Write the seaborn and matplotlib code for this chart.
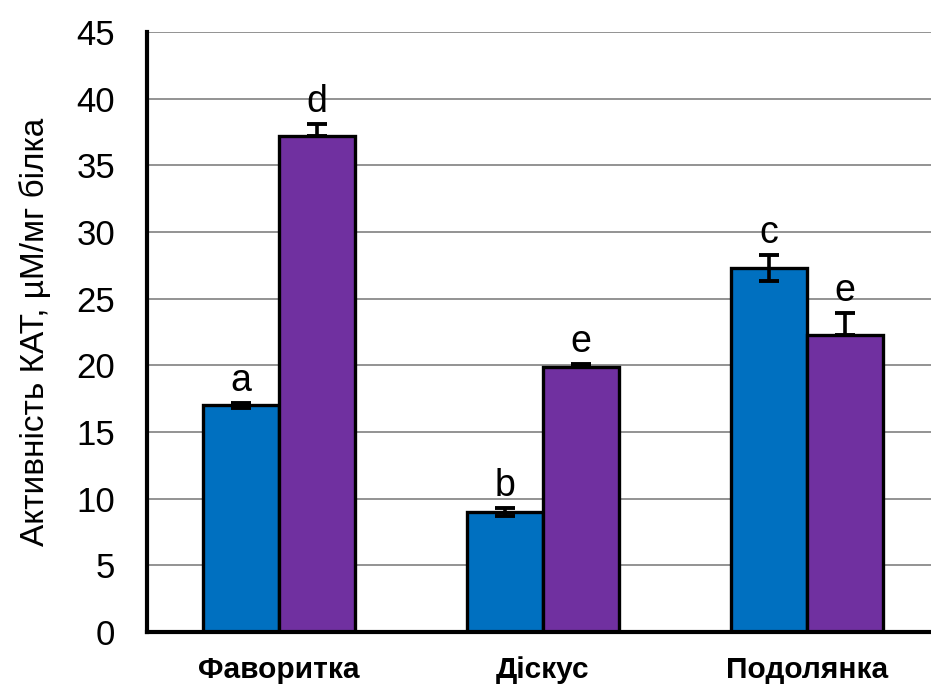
import matplotlib
matplotlib.use("Agg")
import matplotlib.pyplot as plt
from matplotlib.container import BarContainer
import seaborn as sns
import pandas as pd
import numpy as np

categories = ["Фаворитка", "Діскус", "Подолянка"]
series = ["control", "treated"]
blue_vals = [17.0, 9.0, 27.3]
purple_vals = [37.2, 19.9, 22.3]
blue_err = [0.2, 0.3, 0.95]
purple_err = [0.9, 0.2, 1.6]
blue_letters = ["a", "b", "c"]
purple_letters = ["d", "e", "e"]
yticks = [0, 5, 10, 15, 20, 25, 30, 35, 40, 45]

colors = ["#0070C0", "#7030A0"]

df = pd.DataFrame({
    "cat": categories * 2,
    "ser": [series[0]] * 3 + [series[1]] * 3,
    "val": blue_vals + purple_vals,
})

sns.set_style("white")
plt.rcParams['font.family'] = ['Liberation Sans', 'DejaVu Sans']
plt.rcParams['text.color'] = 'black'
plt.rcParams['axes.labelcolor'] = 'black'
plt.rcParams['xtick.color'] = 'black'
plt.rcParams['ytick.color'] = 'black'

fig = plt.figure(figsize=(9.31, 6.90), dpi=100)
ax = fig.add_axes([147/931, 58/690, 792/931, 600/690])

sns.barplot(data=df, x="cat", y="val", hue="ser", order=categories,
            hue_order=series, palette=colors, width=0.576, dodge=True,
            edgecolor="black", linewidth=2.4, errorbar=None, legend=False,
            saturation=1, ax=ax, zorder=3)

bar_conts = [c for c in ax.containers if isinstance(c, BarContainer)]

errs = [blue_err, purple_err]
letters = [blue_letters, purple_letters]
for si, cont in enumerate(bar_conts):
    for ci, bar in enumerate(cont):
        x = bar.get_x() + bar.get_width() / 2
        h = bar.get_height()
        e = errs[si][ci]
        if si == 0:
            yerr = [[e], [e]]
        else:
            yerr = [[0], [e]]
        ax.errorbar([x], [h], yerr=yerr, fmt="none", ecolor="black",
                    elinewidth=2.6, capsize=7.5, capthick=2.8, zorder=4)
        ax.text(x, h + e + 0.3, letters[si][ci], ha="center", va="bottom",
                fontsize=27, color="black", zorder=5)

ax.set_ylim(0, 45)
ax.set_xlim(-0.5, 2.5)
ax.set_yticks(yticks)
ax.set_yticklabels([str(t) for t in yticks], fontsize=25)
ax.yaxis.grid(True, color="#808080", linewidth=1.2, zorder=0)
ax.set_axisbelow(True)

ax.set_xticks([-0.5, 0.5, 1.5, 2.5])
ax.set_xticklabels([])
ax.set_xticks([0, 1, 2], minor=True)
ax.set_xticklabels(categories, minor=True, fontsize=21.5, fontweight="bold")
ax.tick_params(axis="x", which="major", length=10, width=1, color="black", direction="out")
ax.tick_params(axis="x", which="minor", length=0, pad=17)
ax.tick_params(axis="y", which="major", length=9, width=1, color="black", direction="out", pad=14)

ax.set_xlabel("")
ax.set_ylabel("Активність КАТ, µM/мг білка", fontsize=24, labelpad=18)

for s in ["top", "right"]:
    ax.spines[s].set_visible(False)
for s in ["left", "bottom"]:
    ax.spines[s].set_color("black")
    ax.spines[s].set_linewidth(3)
    ax.spines[s].set_zorder(6)

fig.savefig("out.png", dpi=100)
